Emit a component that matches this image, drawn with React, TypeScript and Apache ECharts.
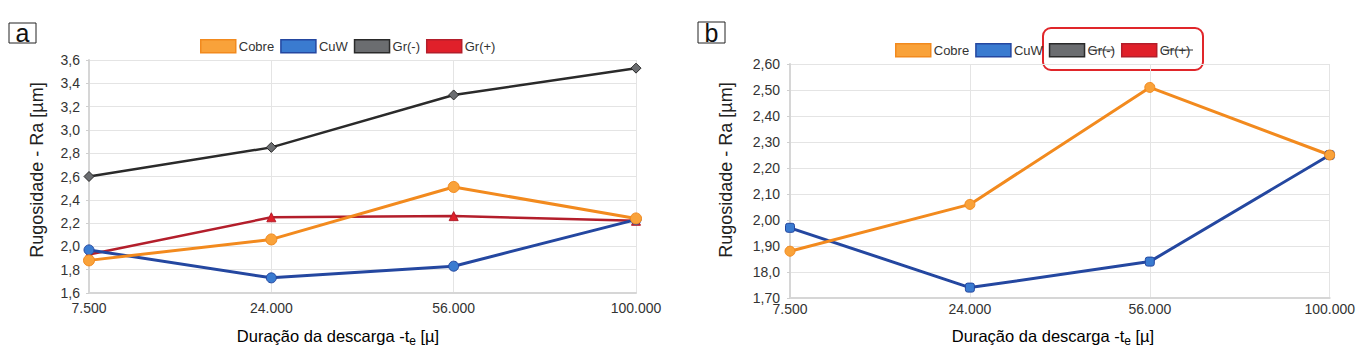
import React, { useEffect, useRef } from "react";
import * as echarts from "echarts";

const categories = ["7.500", "24.000", "56.000", "100.000"];
const seriesNames = ["Cobre", "CuW", "Gr(-)", "Gr(+)"];

const cobreA = [1.88, 2.06, 2.51, 2.24];
const cuwA = [1.97, 1.73, 1.83, 2.23];
const grMinusA = [2.6, 2.85, 3.3, 3.53];
const grPlusA = [1.93, 2.25, 2.26, 2.22];

const cobreB = [1.88, 2.06, 2.51, 2.25];
const cuwB = [1.97, 1.74, 1.84, 2.25];

const yTicksA = ["1,6", "1,8", "2,0", "2,2", "2,4", "2,6", "2,8", "3,0", "3,2", "3,4", "3,6"];
const yTicksB = ["1,70", "18,0", "1,90", "2,00", "2,10", "2,20", "2,30", "2,40", "2,50", "2,60"];

const yMinA = 1.6, yMaxA = 3.6, yStepA = 0.2;
const yMinB = 1.7, yMaxB = 2.6, yStepB = 0.1;

const FONT = "Liberation Sans, Arial, sans-serif";

const C = {
  cobreLine: "#f28a1e", cobreFill: "#f9a23a",
  cuwLine: "#2447a0", cuwFill: "#3a7bd0",
  grmLine: "#2a2a2a", grmFill: "#6b6d70",
  grpLine: "#b31e2b", grpFill: "#e0202a",
};

export default function App() {
  const ref = useRef<HTMLDivElement>(null);
  useEffect(() => {
    const chart = echarts.init(ref.current!, null, { renderer: "svg" });
    const axisX = (gridIndex: number, margin: number) => ({
      type: "category",
      gridIndex,
      data: categories,
      boundaryGap: false,
      axisLine: { lineStyle: { color: "#d6d6d6", width: 2 } },
      axisTick: { show: false },
      axisLabel: { color: "#333", fontSize: 14, fontFamily: FONT, margin },
      splitLine: { show: true, lineStyle: { color: "#e4e4e4", width: 1 } },
    });
    const axisY = (gridIndex: number, min: number, max: number, step: number, ticks: string[], margin: number) => ({
      type: "value",
      gridIndex,
      min, max, interval: step,
      axisLine: { show: true, lineStyle: { color: "#d6d6d6", width: 2 } },
      axisTick: { show: true, length: 3, lineStyle: { color: "#cfcfcf" } },
      axisLabel: {
        color: "#333", fontSize: 14, fontFamily: FONT, margin,
        formatter: (v: number) => ticks[Math.round((v - min) / step)] ?? "",
      },
      splitLine: { show: true, lineStyle: { color: "#e4e4e4", width: 1 } },
    });
    const legendData = [
      { name: "Cobre", itemStyle: { color: C.cobreFill, borderColor: C.cobreLine, borderWidth: 1.5 } },
      { name: "CuW", itemStyle: { color: C.cuwFill, borderColor: C.cuwLine, borderWidth: 1.5 } },
      { name: "Gr(-)", itemStyle: { color: C.grmFill, borderColor: C.grmLine, borderWidth: 1.5 } },
      { name: "Gr(+)", itemStyle: { color: C.grpFill, borderColor: C.grpLine, borderWidth: 1.5 } },
    ];
    const legend = (left: number, top: number) => ({
      left, top, padding: 0, itemGap: 6, itemWidth: 35, itemHeight: 13, icon: "rect",
      selectedMode: false,
      textStyle: { color: "#333", fontSize: 13, fontFamily: FONT, padding: [0, 0, 0, -2] },
      data: legendData.map((d) => ({ ...d })),
    });
    const line = (name: string, idx: number, data: number[], lc: string, fc: string, symbol: string, size: number, w: number) => ({
      name, type: "line", xAxisIndex: idx, yAxisIndex: idx, data,
      symbol, symbolSize: size, showSymbol: true,
      lineStyle: { color: lc, width: w },
      itemStyle: { color: fc, borderColor: lc, borderWidth: 1 },
    });
    const titleRich = {
      n: { fontSize: 16.5, fontFamily: FONT, color: "#222" },
      s: { fontSize: 12, fontFamily: FONT, color: "#222", padding: [10, 0, 0, 0] },
    };
    const xTitle = (x: number) => ({
      type: "text", x, y: 336,
      style: {
        text: "{n|Duração da descarga -t}{s|e}{n| [µ]}",
        rich: titleRich, align: "center", verticalAlign: "middle",
        textAlign: "center", textVerticalAlign: "middle",
      },
    });
    const yTitle = (x: number) => ({
      type: "text", x, y: 170, rotation: Math.PI / 2,
      style: {
        text: "Rugosidade - Ra [µm]", font: `18px ${FONT}`, fill: "#222",
        textAlign: "center", textVerticalAlign: "middle", align: "center", verticalAlign: "middle",
      },
    });
    const boxLabel = (x: number, y: number, w: number, h: number, t: string) => [
      { type: "rect", shape: { x, y, width: w, height: h }, style: { fill: "#fff", stroke: "#222", lineWidth: 1 } },
      {
        type: "text", x: x + w / 2, y: y + h / 2,
        style: { text: t, font: `25px ${FONT}`, fill: "#111", textAlign: "center", textVerticalAlign: "middle", align: "center", verticalAlign: "middle" },
      },
    ];
    chart.setOption({
      animation: false,
      backgroundColor: "#fff",
      grid: [
        { left: 89, right: 1358 - 636, top: 60, bottom: 362 - 293 },
        { left: 790, right: 1358 - 1331, top: 64, bottom: 362 - 298 },
      ],
      xAxis: [axisX(0, 8), axisX(1, 4)],
      yAxis: [axisY(0, yMinA, yMaxA, yStepA, yTicksA, 9), axisY(1, yMinB, yMaxB, yStepB, yTicksB, 10)],
      legend: [legend(200, 39), legend(895, 43)],
      series: [
        line(seriesNames[2], 0, grMinusA, C.grmLine, C.grmFill, "diamond", 10, 2.5),
        line(seriesNames[3], 0, grPlusA, C.grpLine, C.grpFill, "triangle", 9, 2.5),
        line(seriesNames[1], 0, cuwA, C.cuwLine, C.cuwFill, "circle", 10, 3),
        line(seriesNames[0], 0, cobreA, C.cobreLine, C.cobreFill, "circle", 11, 3),
        line(seriesNames[2], 1, [], C.grmLine, C.grmFill, "diamond", 10, 2.5),
        line(seriesNames[3], 1, [], C.grpLine, C.grpFill, "triangle", 9, 2.5),
        line(seriesNames[1], 1, cuwB, C.cuwLine, C.cuwFill, "roundRect", 9, 3),
        line(seriesNames[0], 1, cobreB, C.cobreLine, C.cobreFill, "circle", 10, 3),
      ],
      graphic: [
        ...boxLabel(9, 23, 27, 20, "a"),
        ...boxLabel(698, 22, 27, 21, "b"),
        yTitle(37),
        yTitle(726),
        xTitle(338),
        xTitle(1053),
        {
          type: "rect", shape: { x: 1043, y: 28, width: 160, height: 42, r: 8 },
          style: { fill: "none", stroke: "#e0262a", lineWidth: 2 },
        },
        { type: "line", shape: { x1: 1089, y1: 50, x2: 1114, y2: 50 }, style: { stroke: "#333", lineWidth: 1 } },
        { type: "line", shape: { x1: 1163, y1: 50, x2: 1193, y2: 50 }, style: { stroke: "#333", lineWidth: 1 } },
      ],
    });
    return () => chart.dispose();
  }, []);
  return <div ref={ref} style={{ position: "fixed", left: 0, top: 0, width: 1358, height: 362, background: "#fff" }} />;
}
